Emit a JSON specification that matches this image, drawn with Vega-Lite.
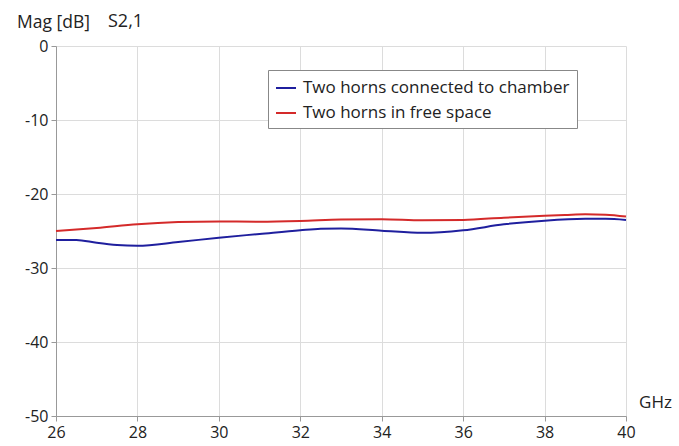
{
  "$schema": "https://vega.github.io/schema/vega-lite/v6.json",
  "autosize": {"type": "none"},
  "padding": {"left": 56, "top": 46, "right": 53, "bottom": 30},
  "width": 570,
  "height": 370,
  "background": "white",
  "title": {"text": "S2,1", "anchor": "start", "frame": "group", "dx": 52, "offset": 0, "dy": 18, "fontSize": 18, "fontWeight": "normal", "font": "Open Sans", "color": "#222"},
  "config": {
    "view": {"stroke": null},
    "font": "Open Sans"
  },
  "data": {
    "values": [
      {"f": 26, "mag": -26.2, "s": "Two horns connected to chamber"},
      {"f": 26.5, "mag": -26.2, "s": "Two horns connected to chamber"},
      {"f": 27, "mag": -26.6, "s": "Two horns connected to chamber"},
      {"f": 27.5, "mag": -26.9, "s": "Two horns connected to chamber"},
      {"f": 28, "mag": -27.0, "s": "Two horns connected to chamber"},
      {"f": 29, "mag": -26.5, "s": "Two horns connected to chamber"},
      {"f": 30, "mag": -25.9, "s": "Two horns connected to chamber"},
      {"f": 31, "mag": -25.4, "s": "Two horns connected to chamber"},
      {"f": 32, "mag": -24.9, "s": "Two horns connected to chamber"},
      {"f": 32.5, "mag": -24.7, "s": "Two horns connected to chamber"},
      {"f": 33, "mag": -24.65, "s": "Two horns connected to chamber"},
      {"f": 34, "mag": -24.95, "s": "Two horns connected to chamber"},
      {"f": 35, "mag": -25.25, "s": "Two horns connected to chamber"},
      {"f": 36, "mag": -24.9, "s": "Two horns connected to chamber"},
      {"f": 37, "mag": -24.1, "s": "Two horns connected to chamber"},
      {"f": 38, "mag": -23.6, "s": "Two horns connected to chamber"},
      {"f": 39, "mag": -23.35, "s": "Two horns connected to chamber"},
      {"f": 39.5, "mag": -23.35, "s": "Two horns connected to chamber"},
      {"f": 40, "mag": -23.5, "s": "Two horns connected to chamber"},
      {"f": 26, "mag": -25.0, "s": "Two horns in free space"},
      {"f": 27, "mag": -24.6, "s": "Two horns in free space"},
      {"f": 28, "mag": -24.1, "s": "Two horns in free space"},
      {"f": 29, "mag": -23.8, "s": "Two horns in free space"},
      {"f": 30, "mag": -23.7, "s": "Two horns in free space"},
      {"f": 31, "mag": -23.75, "s": "Two horns in free space"},
      {"f": 32, "mag": -23.65, "s": "Two horns in free space"},
      {"f": 33, "mag": -23.45, "s": "Two horns in free space"},
      {"f": 34, "mag": -23.4, "s": "Two horns in free space"},
      {"f": 35, "mag": -23.55, "s": "Two horns in free space"},
      {"f": 36, "mag": -23.5, "s": "Two horns in free space"},
      {"f": 37, "mag": -23.2, "s": "Two horns in free space"},
      {"f": 38, "mag": -22.95, "s": "Two horns in free space"},
      {"f": 38.5, "mag": -22.85, "s": "Two horns in free space"},
      {"f": 39, "mag": -22.75, "s": "Two horns in free space"},
      {"f": 39.5, "mag": -22.8, "s": "Two horns in free space"},
      {"f": 40, "mag": -23.05, "s": "Two horns in free space"}
    ]
  },
  "mark": {"type": "line", "interpolate": "monotone", "strokeWidth": 2},
  "encoding": {
    "x": {
      "field": "f", "type": "quantitative",
      "scale": {"domain": [26, 40], "nice": false, "zero": false},
      "axis": {
        "values": [26, 28, 30, 32, 34, 36, 38, 40],
        "labelFlush": false,
        "labelExpr": "'' + datum.value",
        "title": "GHz", "titleX": 599, "titleY": -14, "titleAlign": "center", "titleBaseline": "middle",
        "titleFontSize": 17, "titleFontWeight": "normal", "titleColor": "#222",
        "labelFontSize": 16, "labelColor": "#222", "labelPadding": 3,
        "gridColor": "#dcdcdc", "domainColor": "#999", "tickColor": "#999", "tickSize": 5
      }
    },
    "y": {
      "field": "mag", "type": "quantitative",
      "scale": {"domain": [-50, 0], "nice": false},
      "axis": {
        "values": [-50, -40, -30, -20, -10, 0],
        "labelFlush": false,
        "labelExpr": "'' + datum.value",
        "title": "Mag [dB]", "titleAngle": 0, "titleX": -3, "titleY": -24, "titleAlign": "center", "titleBaseline": "middle",
        "titleFontSize": 17.5, "titleFontWeight": "normal", "titleColor": "#222",
        "labelFontSize": 16, "labelColor": "#222", "labelPadding": 3,
        "gridColor": "#dcdcdc", "domainColor": "#999", "tickColor": "#999", "tickSize": 5
      }
    },
    "color": {
      "field": "s", "type": "nominal",
      "scale": {"domain": ["Two horns connected to chamber", "Two horns in free space"], "range": ["#1f1f9e", "#d42a2a"]},
      "legend": {
        "title": null, "orient": "none", "legendX": 212, "legendY": 24,
        "strokeColor": "#888", "fillColor": "white", "padding": 7,
        "symbolType": "stroke", "symbolSize": 400, "symbolStrokeWidth": 2,
        "labelFontSize": 17, "labelColor": "#222", "labelLimit": 400, "rowPadding": 6,
        "labelOffset": 6
      }
    }
  }
}
